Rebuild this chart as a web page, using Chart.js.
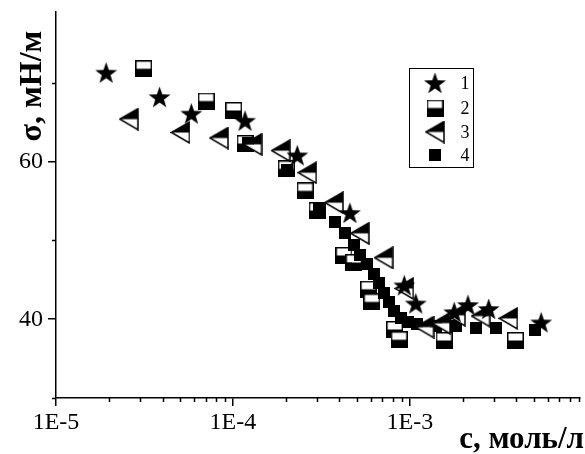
<!DOCTYPE html>
<html>
<head>
<meta charset="utf-8">
<script src="https://cdn.jsdelivr.net/npm/chart.js@4.4.0/dist/chart.umd.min.js"></script>
<style>
  html, body { margin: 0; padding: 0; background: #fff; }
  #wrap { width: 585px; height: 454px; }
</style>
</head>
<body>
<div id="wrap"><canvas id="sigmaChart"></canvas></div>
<script>
// concentration c (mol/l) and surface tension sigma (mN/m)
const conc1 = [1.92e-5, 3.85e-5, 5.82e-5, 1.17e-4, 2.31e-4, 4.58e-4, 9.3e-4, 1.08e-3, 1.78e-3, 2.13e-3, 2.79e-3, 5.52e-3];
const sigma1 = [71.3, 68.2, 66.1, 65.2, 60.8, 53.5, 44.3, 42.0, 40.9, 41.8, 41.3, 39.6];

const conc2 = [3.13e-5, 7.06e-5, 1.01e-4, 1.17e-4, 2.0e-4, 2.56e-4, 2.99e-4, 4.24e-4, 4.83e-4, 5.85e-4, 6.1e-4, 8.2e-4, 8.7e-4, 1.56e-3, 3.95e-3];
const sigma2 = [71.8, 67.7, 66.5, 62.3, 59.1, 56.3, 53.8, 48.1, 47.2, 43.8, 42.2, 38.7, 37.4, 37.3, 37.3];

const conc3 = [2.58e-5, 5.05e-5, 8.34e-5, 1.29e-4, 1.86e-4, 2.63e-4, 3.72e-4, 5.21e-4, 7.1e-4, 9.3e-4, 1.21e-3, 1.5e-3, 1.82e-3, 2.51e-3, 3.6e-3];
const sigma3 = [65.4, 63.7, 63.0, 62.2, 61.4, 58.6, 54.8, 50.9, 47.8, 43.9, 39.0, 39.5, 40.5, 40.4, 40.1];

const conc4 = [1.22e-4, 2.03e-4, 3.07e-4, 3.78e-4, 4.3e-4, 4.82e-4, 5.21e-4, 5.7e-4, 6.25e-4, 6.67e-4, 7.11e-4, 7.58e-4, 8.18e-4, 8.96e-4, 9.8e-4, 1.09e-3, 1.41e-3, 1.82e-3, 2.35e-3, 3.05e-3, 5.12e-3];
const sigma4 = [62.4, 58.9, 54.1, 52.3, 50.9, 49.4, 48.1, 47.0, 45.8, 44.6, 43.3, 42.2, 41.0, 40.1, 39.6, 39.4, 39.1, 39.2, 38.9, 38.9, 38.6];

const seriesNames = ['1', '2', '3', '4'];

// axes
const xMajor = [1e-5, 1e-4, 1e-3];
const xTickLabels = ['1E-5', '1E-4', '1E-3'];
const yMajor = [40, 60];
const yMinor = [30, 50, 70];
const xTitle = 'с, моль/л';
const yTitle = 'σ, мН/м';

const SERIF = '"Liberation Serif", "Times New Roman", serif';

// --- marker bitmaps (Origin-like symbols) ---
function makeCanvas(w, h, draw) {
    const c = document.createElement('canvas');
    c.width = w; c.height = h;
    draw(c.getContext('2d'), w, h);
    return c;
}

const starImg = makeCanvas(23, 22, (ctx, w, h) => {
    const cx = w / 2, cy = 12, R = 11.5, r = 4.6;
    ctx.beginPath();
    for (let i = 0; i < 10; i++) {
        const a = -Math.PI / 2 + i * Math.PI / 5;
        const rad = i % 2 === 0 ? R : r;
        ctx.lineTo(cx + rad * Math.cos(a), cy + rad * Math.sin(a));
    }
    ctx.closePath();
    ctx.fillStyle = '#000';
    ctx.fill();
});

const halfSquareImg = makeCanvas(17, 17, (ctx, w, h) => {
    ctx.fillStyle = '#fff';
    ctx.fillRect(0, 0, w, h / 2);
    ctx.fillStyle = '#000';
    ctx.fillRect(0, h / 2, w, h / 2);
    ctx.lineWidth = 1.5;
    ctx.strokeStyle = '#000';
    ctx.strokeRect(0.75, 0.75, w - 1.5, h - 1.5);
});

const halfTriImg = makeCanvas(20, 23, (ctx, w, h) => {
    const ax = 1, ay = h / 2, rx = w - 1;
    // lower half white
    ctx.beginPath();
    ctx.moveTo(ax, ay); ctx.lineTo(rx, ay); ctx.lineTo(rx, h - 1); ctx.closePath();
    ctx.fillStyle = '#fff';
    ctx.fill();
    // upper half black
    ctx.beginPath();
    ctx.moveTo(ax, ay); ctx.lineTo(rx, 1); ctx.lineTo(rx, ay); ctx.closePath();
    ctx.fillStyle = '#000';
    ctx.fill();
    ctx.beginPath();
    ctx.moveTo(ax, ay); ctx.lineTo(rx, 1); ctx.lineTo(rx, h - 1); ctx.closePath();
    ctx.lineWidth = 1.5;
    ctx.strokeStyle = '#000';
    ctx.stroke();
});

const squareImg = makeCanvas(12, 12, (ctx, w, h) => {
    ctx.fillStyle = '#000';
    ctx.fillRect(0, 0, w, h);
});

const markers = [starImg, halfSquareImg, halfTriImg, squareImg];

const toPts = (xs, ys) => xs.map((x, i) => ({ x: x, y: ys[i] }));

// minor ticks + legend + axis titles
const decorPlugin = {
    id: 'decor',
    afterDraw: (chart) => {
        const ctx = chart.ctx;
        const xs = chart.scales.x, ys = chart.scales.y;
        const area = chart.chartArea;
        ctx.save();
        ctx.strokeStyle = '#000';
        ctx.lineWidth = 1.5;

        // minor ticks on both axes
        ctx.beginPath();
        [1e-5, 1e-4, 1e-3].forEach(dec => {
            for (let m = 2; m <= 9; m++) {
                const v = dec * m;
                if (v > xs.max) continue;
                const px = Math.round(xs.getPixelForValue(v)) + 0.5;
                ctx.moveTo(px, area.bottom);
                ctx.lineTo(px, area.bottom + 4);
            }
        });
        yMinor.forEach(v => {
            const py = Math.round(ys.getPixelForValue(v)) + 0.5;
            ctx.moveTo(area.left - 4, py);
            ctx.lineTo(area.left, py);
        });
        ctx.stroke();

        // legend box
        ctx.lineWidth = 1;
        ctx.strokeRect(409.5, 68.5, 64, 99);
        const rowsY = [83, 108, 132, 155];
        ctx.font = '18px ' + SERIF;
        ctx.fillStyle = '#000';
        ctx.textAlign = 'center';
        ctx.textBaseline = 'middle';
        markers.forEach((img, i) => {
            ctx.drawImage(img, 435 - img.width / 2, rowsY[i] - img.height / 2);
            ctx.fillText(seriesNames[i], 465, rowsY[i] + 1);
        });

        // axis titles
        ctx.font = 'bold 31px ' + SERIF;
        ctx.textAlign = 'right';
        ctx.textBaseline = 'alphabetic';
        ctx.fillText(xTitle, 584, 448);

        ctx.font = 'bold 32px ' + SERIF;
        ctx.translate(41, 86);
        ctx.rotate(-Math.PI / 2);
        ctx.textAlign = 'center';
        ctx.fillText(yTitle, 0, 0);
        ctx.restore();
    }
};

const axisBase = {
    border: { display: true, color: '#000', width: 1.5 },
    grid: { drawOnChartArea: false, drawTicks: true, tickLength: 8, color: '#000', lineWidth: 1.5 },
    ticks: { color: '#000', font: { family: SERIF, size: 24 }, autoSkip: false, maxRotation: 0 }
};

new Chart(document.getElementById('sigmaChart').getContext('2d'), {
    type: 'scatter',
    data: {
        datasets: [
            { label: seriesNames[0], data: toPts(conc1, sigma1), pointStyle: starImg, order: 0 },
            { label: seriesNames[1], data: toPts(conc2, sigma2), pointStyle: halfSquareImg, order: 3 },
            { label: seriesNames[2], data: toPts(conc3, sigma3), pointStyle: halfTriImg, order: 1 },
            { label: seriesNames[3], data: toPts(conc4, sigma4), pointStyle: squareImg, order: 2 }
        ]
    },
    options: {
        responsive: true,
        maintainAspectRatio: false,
        animation: false,
        layout: { padding: { top: 12, right: 0, left: 0, bottom: 0 } },
        plugins: { legend: { display: false }, tooltip: { enabled: false } },
        scales: {
            x: {
                ...axisBase,
                type: 'logarithmic',
                min: 1e-5,
                max: 9.15e-3,
                afterBuildTicks: (s) => { s.ticks = xMajor.map(v => ({ value: v, major: true })); },
                afterFit: (s) => { s.height = 56; s.paddingLeft = 0; s.paddingRight = 0; },
                ticks: { ...axisBase.ticks, padding: 2, callback: (v, i) => xTickLabels[i] }
            },
            y: {
                ...axisBase,
                type: 'linear',
                min: 30,
                max: 79,
                afterBuildTicks: (s) => { s.ticks = yMajor.map(v => ({ value: v })); },
                afterFit: (s) => { s.width = 56; s.paddingTop = 0; s.paddingBottom = 0; },
                ticks: { ...axisBase.ticks, padding: 5, callback: (v) => String(v) }
            }
        }
    },
    plugins: [decorPlugin]
});
</script>
</body>
</html>
